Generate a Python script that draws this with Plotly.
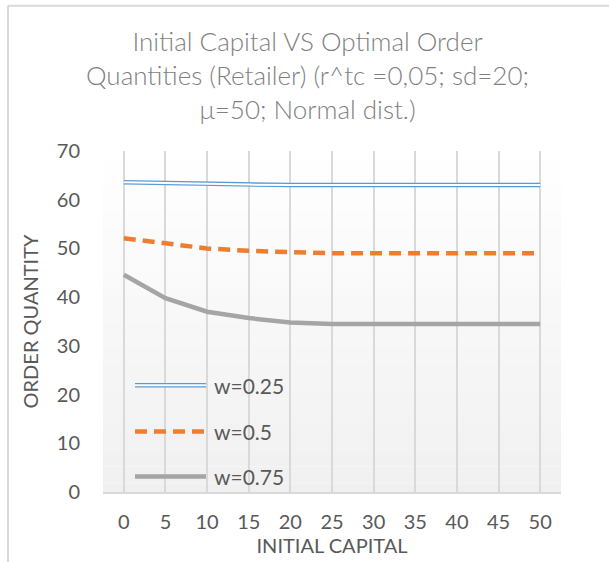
import plotly.graph_objects as go

initial_capital = [0, 5, 10, 15, 20, 25, 30, 35, 40, 45, 50]
q_w025 = [63.6, 63.4, 63.2, 63.1, 63.0, 63.0, 63.0, 63.0, 63.0, 63.0, 63.0]
q_w050 = [52.1, 51.0, 50.0, 49.5, 49.2, 49.0, 49.0, 49.0, 49.0, 49.0, 49.0]
q_w075 = [44.6, 39.8, 37.0, 35.7, 34.8, 34.5, 34.5, 34.5, 34.5, 34.5, 34.5]
series_names = ["w=0.25", "w=0.5", "w=0.75"]
title_text = "Initial Capital VS Optimal Order<br>Quantities (Retailer) (r^tc =0,05; sd=20;<br>μ=50; Normal dist.)"

FONT = "Lato"
TXT = "#595959"
BLUE = "#5b9bd5"
ORANGE = "#ed7d31"
GRAY = "#a5a5a5"

fig = go.Figure()
# blue double line: outer blue, inner white
fig.add_trace(go.Scatter(x=initial_capital, y=q_w025, mode="lines",
                         line=dict(color=BLUE, width=4.5), name=series_names[0], showlegend=False))
fig.add_trace(go.Scatter(x=initial_capital, y=q_w025, mode="lines",
                         line=dict(color="white", width=2), showlegend=False, hoverinfo="skip"))
fig.add_trace(go.Scatter(x=initial_capital, y=q_w050, mode="lines",
                         line=dict(color=ORANGE, width=4.5, dash="12px,7px"), name=series_names[1], showlegend=False))
fig.add_trace(go.Scatter(x=initial_capital, y=q_w075, mode="lines",
                         line=dict(color=GRAY, width=4.5), name=series_names[2], showlegend=False))

shapes = []
# plot-area gradient background (white at top -> light gray at bottom)
n = 40
for i in range(n):
    t = (i + 0.5) / n  # 0 bottom .. 1 top
    c = int(round(240 + (255 - 240) * t))
    shapes.append(dict(type="rect", xref="paper", yref="paper", x0=0, x1=1,
                       y0=i / n, y1=(i + 1) / n, fillcolor=f"rgb({c},{c},{c})",
                       line=dict(width=0), layer="below"))
# chart border lines (top and left)
shapes.append(dict(type="line", xref="paper", yref="paper", x0=-0.2074, x1=1.2, y0=1.4258, y1=1.4258,
                   line=dict(color="#d9d9d9", width=2)))
shapes.append(dict(type="line", xref="paper", yref="paper", x0=-0.2074, x1=-0.2074, y0=-0.3, y1=1.4258,
                   line=dict(color="#d9d9d9", width=2)))

# custom legend
leg_x0, leg_x1, leg_tx = 0.0699, 0.2249, 0.238
leg_y = [0.3128, 0.1777, 0.0455]
shapes.append(dict(type="line", xref="paper", yref="paper", x0=leg_x0, x1=leg_x1, y0=leg_y[0], y1=leg_y[0],
                   line=dict(color=BLUE, width=4.5)))
shapes.append(dict(type="line", xref="paper", yref="paper", x0=leg_x0, x1=leg_x1, y0=leg_y[0], y1=leg_y[0],
                   line=dict(color="white", width=2)))
shapes.append(dict(type="line", xref="paper", yref="paper", x0=leg_x0, x1=leg_x1, y0=leg_y[1], y1=leg_y[1],
                   line=dict(color=ORANGE, width=4.5, dash="12px,7px")))
shapes.append(dict(type="line", xref="paper", yref="paper", x0=leg_x0, x1=leg_x1, y0=leg_y[2], y1=leg_y[2],
                   line=dict(color=GRAY, width=4.5)))
annotations = []
for name, yy in zip(series_names, leg_y):
    annotations.append(dict(text=name, xref="paper", yref="paper", x=leg_tx, y=yy,
                            xanchor="left", yanchor="middle", showarrow=False,
                            font=dict(family=FONT, size=21, color=TXT)))

fig.update_layout(
    width=609, height=562,
    margin=dict(l=103, r=48, t=151, b=70),
    paper_bgcolor="white", plot_bgcolor="rgba(0,0,0,0)",
    title=dict(text=title_text, x=0.505, xref="container", xanchor="center",
               y=1 - 51 / 562, yref="container", yanchor="top",
               font=dict(family=FONT, size=26, weight=300, color="#7f7f7f")),
    font=dict(family=FONT, color=TXT),
    shapes=shapes, annotations=annotations,
    showlegend=False,
)
fig.update_xaxes(range=[-2.5, 52.5], tickvals=initial_capital, ticktext=[str(v) for v in initial_capital],
                 showgrid=True, gridcolor="#d9d9d9", gridwidth=1.5, zeroline=False,
                 showline=True, linecolor="#d9d9d9", linewidth=2,
                 ticks="", ticklabelstandoff=11, tickfont=dict(family=FONT, size=20, color=TXT),
                 title=dict(text="INITIAL CAPITAL", standoff=3, font=dict(family=FONT, size=20, color=TXT)))
fig.update_yaxes(range=[0, 70], tickvals=[0, 10, 20, 30, 40, 50, 60, 70],
                 showgrid=False, zeroline=False, showline=False, ticks="",
                 ticklabelstandoff=22, tickfont=dict(family=FONT, size=20, color=TXT),
                 title=dict(text="ORDER QUANTITY", standoff=12, font=dict(family=FONT, size=20, color=TXT)))

fig.write_html("out.html")
